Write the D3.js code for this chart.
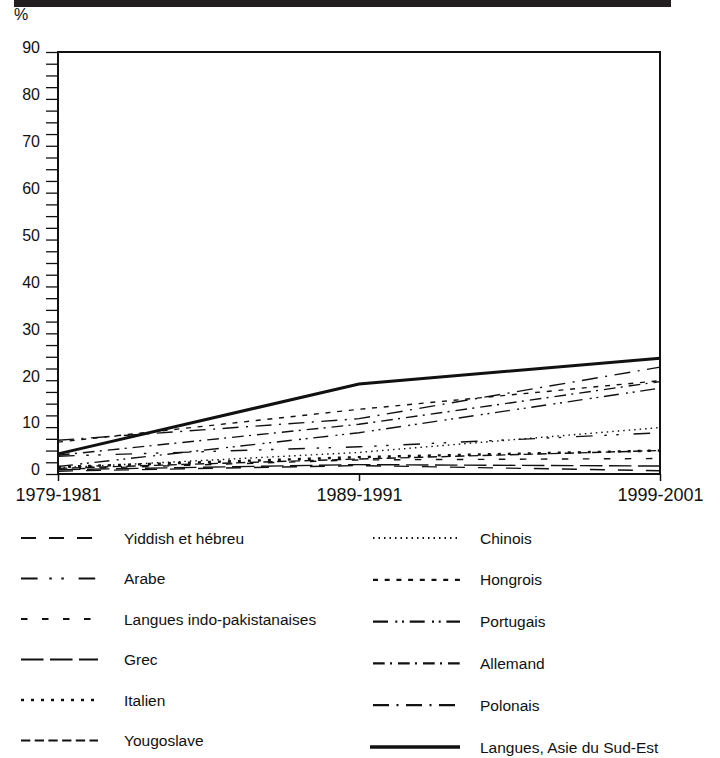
<!doctype html>
<html>
  <head>
    <meta charset="utf-8">
    <title>Langues</title>
    <script src="https://cdnjs.cloudflare.com/ajax/libs/d3/7.8.5/d3.min.js"></script>
    <style>
      body { margin: 0; background: #fff; }
      svg text { font-family: "Liberation Sans", Arial, sans-serif; fill: #111; }
    </style>
  </head>
  <body>
    <div id="chart"></div>
    <script>
      // periods on the x axis
      const periods = ["1979-1981", "1989-1991", "1999-2001"];

      // one array per language, % for each period
      const yiddish   = [0.6, 1.8, 0.7];
      const arabe     = [3.8, 5.8, 8.8];
      const indoPak   = [1.0, 3.0, 3.3];
      const grec      = [0.9, 2.0, 1.7];
      const italien   = [1.5, 3.6, 5.0];
      const yougoslave = [1.2, 3.2, 5.0];
      const chinois   = [1.3, 4.6, 9.9];
      const hongrois  = [6.8, 13.8, 19.9];
      const portugais = [1.6, 8.8, 18.3];
      const allemand  = [4.0, 10.6, 19.7];
      const polonais  = [7.2, 11.8, 22.8];
      const asieSudEst = [4.3, 19.2, 24.7];

      const yTicks = [0, 10, 20, 30, 40, 50, 60, 70, 80, 90];

      // name, values, dash pattern, width  (left column then right column)
      const series = [
        {name: "Yiddish et hébreu", v: yiddish, dash: "15,13", col: 0},
        {name: "Arabe", v: arabe, dash: "16.6,11.7,2.5,9.5,2.5,14.8", col: 0},
        {name: "Langues indo-pakistanaises", v: indoPak, dash: "6.5,14.5", col: 0},
        {name: "Grec", v: grec, dash: "22.5,6.5", col: 0},
        {name: "Italien", v: italien, dash: "3,7", col: 0, w: 2.4},
        {name: "Yougoslave", v: yougoslave, dash: "9.3,4.4", col: 0},
        {name: "Chinois", v: chinois, dash: "1.5,4", col: 1},
        {name: "Hongrois", v: hongrois, dash: "5,6.7", col: 1},
        {name: "Portugais", v: portugais, dash: "15,7.3,2,4.7,2,5.7", col: 1},
        {name: "Allemand", v: allemand, dash: "11.7,5.3,2,6", col: 1},
        {name: "Polonais", v: polonais, dash: "16,7.5,2,7.5", col: 1},
        {name: "Langues, Asie du Sud-Est", v: asieSudEst, dash: null, col: 1, w: 3}
      ];

      const svg = d3.select("#chart").append("svg")
        .attr("width", 720)
        .attr("height", 758);

      // dark band at the top
      svg.append("rect")
        .attr("x", 14).attr("y", 0)
        .attr("width", 657).attr("height", 7)
        .attr("fill", "#231f20");

      svg.append("text")
        .attr("x", 14).attr("y", 20)
        .style("font-size", "16px")
        .text("%");

      const x = d3.scalePoint().domain(periods).range([58, 660]);
      const y = d3.scaleLinear().domain([0, 90]).range([474, 52]);

      // left axis, ticks every 2.5, labels every 10
      const yAxis = svg.append("g")
        .attr("transform", "translate(58,0)")
        .call(d3.axisLeft(y)
          .tickValues(d3.range(0, 90.1, 2.5))
          .tickSize(12)
          .tickPadding(6)
          .tickFormat(d => yTicks.includes(d) ? d : ""));
      yAxis.select(".domain").remove();
      yAxis.selectAll("line").attr("stroke", "#111").attr("stroke-width", 1.3);
      yAxis.selectAll("text")
        .attr("dy", "0.05em")
        .style("font-size", "16px")
        .style("font-family", "Liberation Sans, Arial, sans-serif")
        .attr("fill", "#111");

      // bottom axis
      const xAxis = svg.append("g")
        .attr("transform", "translate(0,474)")
        .call(d3.axisBottom(x).tickSize(7).tickPadding(7));
      xAxis.select(".domain").remove();
      xAxis.selectAll("line").attr("stroke", "#111").attr("stroke-width", 1.5);
      xAxis.selectAll("text")
        .style("font-size", "18px")
        .style("font-family", "Liberation Sans, Arial, sans-serif")
        .attr("fill", "#111");

      // frame
      svg.append("rect")
        .attr("x", 58).attr("y", y(90))
        .attr("width", 660 - 58).attr("height", y(0) - y(90))
        .attr("fill", "none")
        .attr("stroke", "#111")
        .attr("stroke-width", 2);

      const line = d3.line()
        .x((d, i) => x(periods[i]))
        .y(d => y(d));

      svg.append("g")
        .selectAll("path")
        .data(series)
        .join("path")
        .attr("d", d => line(d.v))
        .attr("fill", "none")
        .attr("stroke", "#111")
        .attr("stroke-width", d => d.w || 1.4)
        .attr("stroke-dasharray", d => d.dash);

      // legend
      const leg = svg.append("g")
        .selectAll("g")
        .data(series)
        .join("g")
        .attr("transform", (d, i) => {
          const row = d.col === 0 ? i : i - 6;
          const ty = d.col === 0 ? 538 + row * 40.5 : 538 + row * 41.8;
          return "translate(0," + ty + ")";
        });

      leg.append("line")
        .attr("x1", d => d.col === 0 ? 21 : (d.dash ? 373 : 370))
        .attr("x2", d => d.col === 0 ? 98 : 460)
        .attr("y1", 0).attr("y2", 0)
        .attr("stroke", "#111")
        .attr("stroke-width", d => d.w ? d.w + 0.3 : 2.2)
        .attr("stroke-dasharray", d => d.dash);

      leg.append("text")
        .attr("x", d => d.col === 0 ? 124 : 480)
        .attr("y", 5.5)
        .style("font-size", "15.5px")
        .text(d => d.name);
    </script>
  </body>
</html>
